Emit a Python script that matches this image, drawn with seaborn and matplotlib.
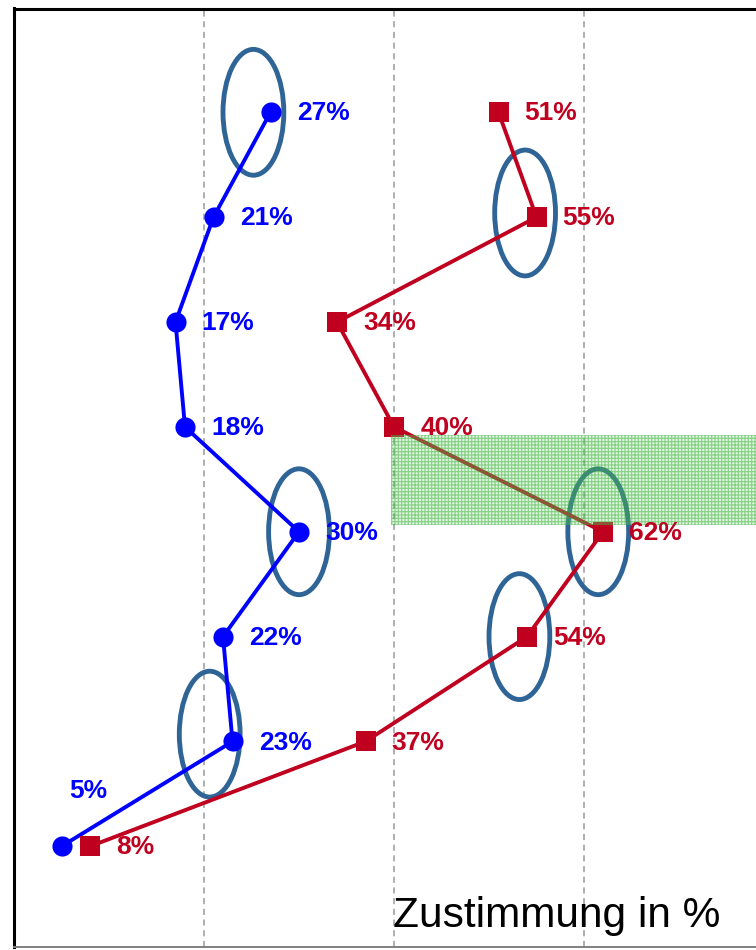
import matplotlib
matplotlib.use("Agg")
import matplotlib.pyplot as plt
from matplotlib.patches import Ellipse, Rectangle
import seaborn as sns
import pandas as pd

# Survey rows (top to bottom) and approval shares in percent
rows = [0, 1, 2, 3, 4, 5, 6, 7]
blue_values = [27, 21, 17, 18, 30, 22, 23, 5]
red_values = [51, 55, 34, 40, 62, 54, 37, 8]

# Highlighted points (row index) and horizontal ring offsets
highlights_blue = [0, 4, 6]
highlights_red = [1, 4, 5]
highlight_shift_blue = [-1.8, 0.0, -2.4]
highlight_shift_red = [-1.2, -0.5, -0.8]

band_rows = (3.08, 3.94)
band_start = 39.7

axis_title = "Zustimmung in %"

BLUE = "#0000FF"
RED = "#C0001F"
RING = "#2F6496"

sns.set_style("white")
plt.rcParams["font.family"] = ["Liberation Sans", "DejaVu Sans"]
plt.rcParams["hatch.linewidth"] = 0.8

fig = plt.figure(figsize=(7.56, 9.5), dpi=100)
ax = fig.add_axes([14 / 756, 3 / 950, 760 / 756, (947 - 8.5) / 950])

df_blue = pd.DataFrame({"row": rows, "value": blue_values})
df_red = pd.DataFrame({"row": rows, "value": red_values})

# Highlight rings around selected points
for i, dx in zip(highlights_blue, highlight_shift_blue):
    ax.add_patch(Ellipse((blue_values[i] + dx, rows[i] + (0.0 if i != 6 else -0.07)),
                         width=6.4, height=1.2, fill=False, edgecolor=RING,
                         linewidth=3.5, zorder=2))
for i, dx in zip(highlights_red, highlight_shift_red):
    ax.add_patch(Ellipse((red_values[i] + dx, rows[i] + (0.0 if i != 1 else -0.04)),
                         width=6.4, height=1.2, fill=False, edgecolor=RING,
                         linewidth=3.5, zorder=2))

sns.lineplot(data=df_blue, x="value", y="row", sort=False, estimator=None,
             color=BLUE, marker="o", markersize=14.5, markeredgewidth=0,
             linewidth=2.8, ax=ax, zorder=3)
sns.lineplot(data=df_red, x="value", y="row", sort=False, estimator=None,
             color=RED, marker="s", markersize=14.5, markeredgewidth=0,
             linewidth=2.8, ax=ax, zorder=3)

# Value labels
for r, v in zip(rows, blue_values):
    if v == 5:
        ax.text(v + 0.85, r - 0.53, f"{v}%", color=BLUE, fontsize=19,
                fontweight="bold", ha="left", va="center", zorder=5)
    else:
        ax.text(v + 2.75, r + 0.01, f"{v}%", color=BLUE, fontsize=19,
                fontweight="bold", ha="left", va="center", zorder=5)
for r, v in zip(rows, red_values):
    ax.text(v + 2.75, r + 0.01, f"{v}%", color=RED, fontsize=19,
            fontweight="bold", ha="left", va="center", zorder=5)

# Shaded band
ax.add_patch(Rectangle((band_start, band_rows[0]), 80 - band_start,
                       band_rows[1] - band_rows[0],
                       facecolor=(0.55, 0.85, 0.55, 0.28), edgecolor="none",
                       zorder=4))
ax.add_patch(Rectangle((band_start, band_rows[0]), 80 - band_start,
                       band_rows[1] - band_rows[0],
                       facecolor="none", edgecolor=(0.1, 0.65, 0.1, 0.45),
                       linewidth=0, hatch="+++++", zorder=4))

ax.set_xlim(0, 80)
ax.set_ylim(7.96, -0.99)
ax.set_xticks([20, 40, 60, 80])
ax.set_yticks([])
ax.set_xticklabels([])
ax.tick_params(length=0)
ax.set_xlabel("")
ax.set_ylabel("")
ax.xaxis.grid(True, linestyle=(0, (4, 3)), color="#9a9a9a", linewidth=1.1)
ax.set_axisbelow(True)

for side in ("left", "top"):
    ax.spines[side].set_color("black")
    ax.spines[side].set_linewidth(2.2)
ax.spines["bottom"].set_color("#808080")
ax.spines["bottom"].set_linewidth(1.4)
ax.spines["right"].set_visible(False)

fig.text(393 / 756, 1 - 927 / 950, axis_title, fontsize=30.5, color="black",
         ha="left", va="baseline")

fig.savefig("out.png", dpi=100)
